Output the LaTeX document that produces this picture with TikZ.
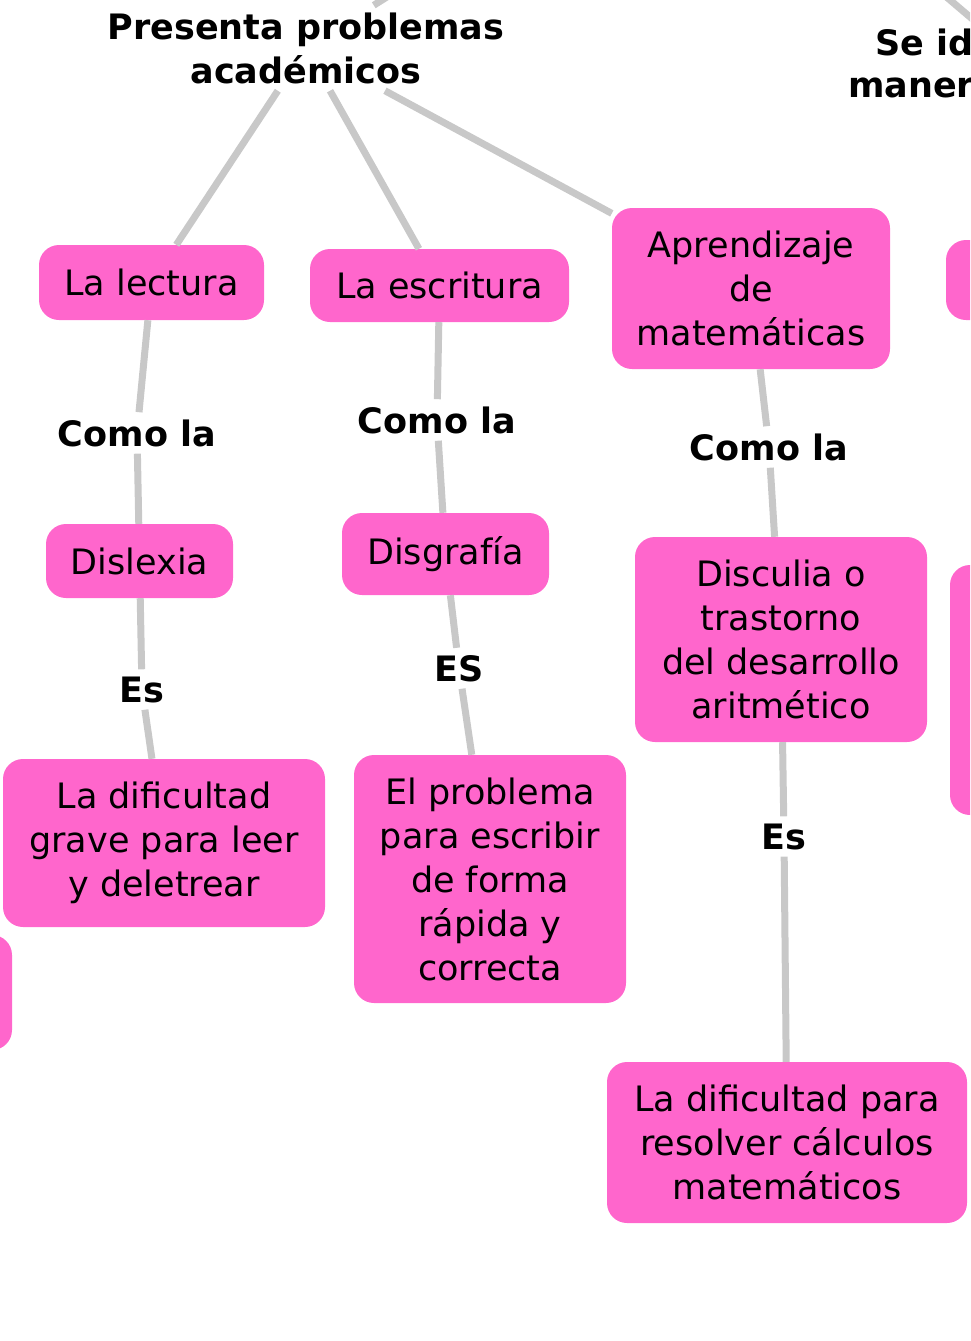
\documentclass[tikz,border=0pt]{standalone}
\usepackage{fontspec}
\setmainfont{DejaVu Sans}
\usetikzlibrary{positioning}
\definecolor{rosa}{HTML}{FF66CC}
\definecolor{gris}{HTML}{C8C8C8}

\begin{document}
\begin{tikzpicture}[x=1pt, y=-1pt,
    concepto/.style={rectangle, rounded corners=20pt, fill=rosa, align=center, inner sep=0pt, font=\fontsize{35}{44}\selectfont},
    enlace/.style={align=center, inner sep=7pt, font=\fontsize{35}{44}\selectfont\bfseries},
    rama/.style={draw=gris, line width=7pt}]
  \useasboundingbox (0,0) rectangle (970,1341);
  \clip (0,0) rectangle (970,1341);

  \node[enlace] (pres) at (306,48) {Presenta problemas\\académicos};
  \node[enlace, anchor=base west, inner sep=0pt] (seid) at (875,55) {Se id};
  \node[enlace, anchor=base west, inner sep=0pt] (maner) at (848,97) {maner};

  \node[concepto, minimum width=225pt, minimum height=75pt] (lectura) at (151.5,282.5) {La lectura};
  \node[concepto, minimum width=259pt, minimum height=73pt] (escritura) at (439.5,285.5) {La escritura};
  \node[concepto, minimum width=278pt, minimum height=161pt] (aprend) at (751,288.5) {Aprendizaje\\de\\matemáticas};
  \node[concepto, minimum width=200pt, minimum height=80pt] (derA) at (1046,280) {};

  \node[enlace, anchor=base] (comoA) at (137,446) {Como la};
  \node[enlace, anchor=base] (comoB) at (437,433) {Como la};
  \node[enlace, anchor=base] (comoC) at (769,460) {Como la};

  \node[concepto, minimum width=187pt, minimum height=74pt] (dislexia) at (139.5,561) {Dislexia};
  \node[concepto, minimum width=207pt, minimum height=82pt] (disgrafia) at (445.5,554) {Disgrafía};
  \node[concepto, minimum width=292pt, minimum height=205pt] (disculia) at (781,639.5) {Disculia o\\trastorno\\del desarrollo\\aritmético};
  \node[concepto, minimum width=200pt, minimum height=250pt] (derB) at (1050,690) {};

  \node[enlace, anchor=base] (esA) at (142,702) {Es};
  \node[enlace, anchor=base] (esB) at (459,681) {ES};
  \node[enlace, anchor=base] (esC) at (784,849) {Es};

  \node[concepto, minimum width=322pt, minimum height=168pt] (leer) at (164,843) {La dificultad\\grave para leer\\y deletrear};
  \node[concepto, minimum width=272pt, minimum height=248pt] (escribir) at (490,879) {El problema\\para escribir\\de forma\\rápida y\\correcta};
  \node[concepto, minimum width=200pt, minimum height=115pt] (izq) at (-88,992.5) {};
  \node[concepto, minimum width=360pt, minimum height=161pt] (calculos) at (787,1142.5) {La dificultad para\\resolver cálculos\\matemáticos};

  \coordinate (arribaA) at (398,-10);
  \coordinate (arribaB) at (930,-17);
  \coordinate (haciaSe) at (1000,42.5);

  \draw[rama] (pres) -- (arribaA);
  \draw[rama] (arribaB) -- (haciaSe);
  \draw[rama] (pres) -- (lectura);
  \draw[rama] (pres) -- (escritura);
  \draw[rama] (pres) -- (aprend);
  \draw[rama] (lectura) -- (comoA) -- (dislexia);
  \draw[rama] (escritura) -- (comoB) -- (disgrafia);
  \draw[rama] (aprend) -- (comoC) -- (disculia);
  \draw[rama] (dislexia) -- (esA) -- (leer);
  \draw[rama] (disgrafia) -- (esB) -- (escribir);
  \draw[rama] (disculia) -- (esC) -- (calculos);
\end{tikzpicture}
\end{document}
